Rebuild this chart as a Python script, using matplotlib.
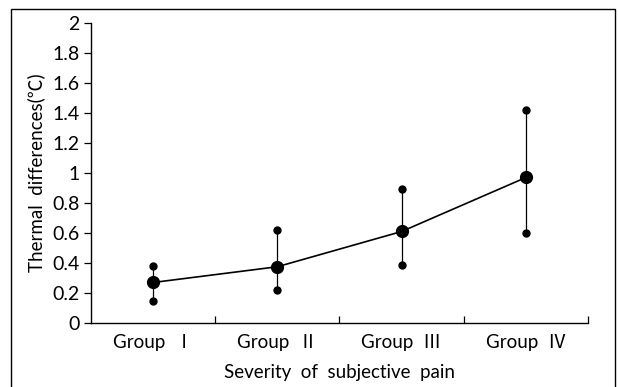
import numpy as np
import matplotlib.pyplot as plt
from matplotlib.patches import Rectangle

groups = ["Group  Ⅰ", "Group  Ⅱ", "Group  Ⅲ", "Group  Ⅳ"]
means = [0.27, 0.375, 0.61, 0.97]
upper = [0.38, 0.62, 0.89, 1.42]
lower = [0.147, 0.218, 0.387, 0.60]

plt.rcParams['font.family'] = ['Lato', 'Noto Sans CJK SC', 'DejaVu Sans']

fig = plt.figure(figsize=(6.18, 3.87), dpi=100)
ax = fig.add_axes([0.1472, 0.1654, 0.8043, 0.7752])

x = np.arange(len(groups)) + 0.5
means = np.array(means)
upper = np.array(upper)
lower = np.array(lower)

ax.vlines(x, lower, upper, color='black', lw=0.9)
ax.plot(x, means, color='black', lw=1.2)
ax.plot(x, means, 'o', color='black', ms=8.5)
ax.plot(x, upper, 'o', color='black', ms=5)
ax.plot(x, lower, 'o', color='black', ms=5)

ax.set_xlim(0, 4)
ax.set_ylim(0, 2)
ax.set_yticks(np.arange(0, 2.01, 0.2))
ax.set_yticklabels(['0', '0.2', '0.4', '0.6', '0.8', '1', '1.2', '1.4', '1.6', '1.8', '2'])
ax.set_xticks([1, 2, 3, 4])
ax.set_xticklabels([])
ax.set_xticks(x, minor=True)
ax.set_xticklabels(groups, minor=True)
ax.tick_params(axis='x', which='major', direction='in', length=5, width=0.9)
ax.tick_params(axis='x', which='minor', length=0, pad=8, labelsize=13.5)
ax.tick_params(axis='y', direction='out', length=5, width=0.9, labelsize=14, pad=3)

for s in ['top', 'right']:
    ax.spines[s].set_visible(False)
for s in ['left', 'bottom']:
    ax.spines[s].set_linewidth(1.0)

ax.set_ylabel("Thermal  differences(℃)", fontsize=13.5, labelpad=5)
ax.set_xlabel("Severity  of  subjective  pain", fontsize=13.5, labelpad=9)

fig.patches.append(Rectangle((11 / 618, -0.01), 604 / 618, 1 - 9 / 387 + 0.01,
                             transform=fig.transFigure, fill=False,
                             edgecolor='black', lw=1.0))

fig.savefig("out.png", dpi=100)
